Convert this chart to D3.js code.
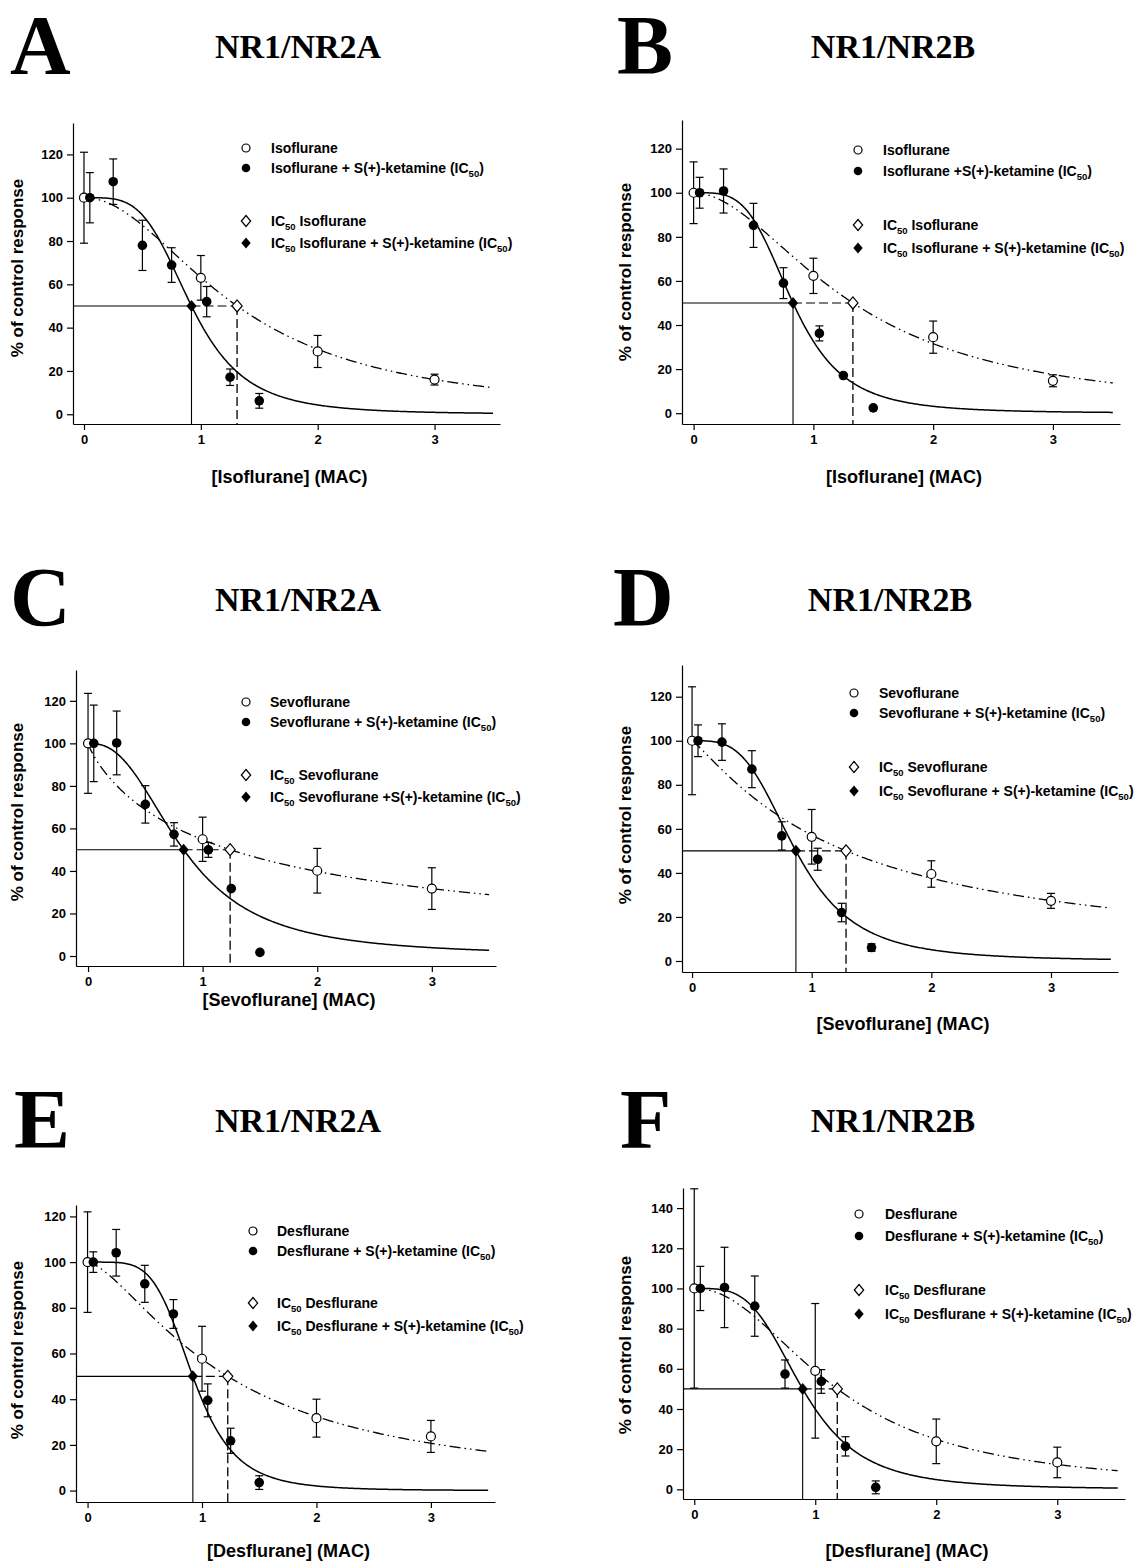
<!DOCTYPE html>
<html>
<head>
<meta charset="utf-8">
<script src="https://cdn.jsdelivr.net/npm/d3@7"></script>
<style>
  body { margin: 0; background: #fff; }
  text { font-family: "Liberation Sans", Arial, sans-serif; font-weight: bold; fill: #000; }
</style>
</head>
<body>
<svg id="fig" width="1145" height="1563"></svg>
<script>
// ---- data ----
var panelLetters = ["A", "B", "C", "D", "E", "F"];
var receptors = ["NR1/NR2A", "NR1/NR2B", "NR1/NR2A", "NR1/NR2B", "NR1/NR2A", "NR1/NR2B"];
var agents = ["Isoflurane", "Isoflurane", "Sevoflurane", "Sevoflurane", "Desflurane", "Desflurane"];

var doseAlone = [0, 1, 2, 3];                              // MAC, anaesthetic alone
var doseKet = [0.05, 0.25, 0.5, 0.75, 1.05, 1.25, 1.5];    // MAC, with S(+)-ketamine

// % of control response, mean and SD (open circles)
var aloneMean = [
  [100, 63, 29, 16],
  [100, 62.3, 34.5, 14.7],
  [100, 54.9, 40.1, 31.7],
  [100, 56.4, 39.5, 27.3],
  [100, 57.7, 31.7, 23.7],
  [100, 59, 23.9, 13.4]
];
var aloneErr = [
  [21, 10.3, 7.4, 2.5],
  [14, 8, 7.3, 2.7],
  [23.5, 10.4, 10.5, 9.8],
  [24.5, 12.4, 6, 3.4],
  [22, 14.2, 8.3, 7],
  [49.6, 33.5, 11.1, 7.6]
];
// filled circles
var ketMean = [
  [100, 107.4, 78, 68.9, 52, 17.1, 6.2],
  [100, 100.8, 85.2, 59, 36.2, 17.1, 2.4],
  [100, 100.2, 71.3, 57.2, 49.9, 31.7, 1.7],
  [100, 99.4, 87.1, 56.8, 46.2, 22, 6.1],
  [100, 104.1, 90.5, 77.3, 39.5, 21.8, 3.5],
  [100, 100.5, 91.2, 57.4, 53.7, 21.4, 1]
];
var ketErr = [
  [11.6, 10.5, 11.6, 8, 7, 3.8, 3.4],
  [7, 10, 10, 7, 3.4, 0, 0],
  [18, 15, 8.8, 5.5, 3.5, 0, 0],
  [7.2, 8.3, 8.4, 6.4, 5, 4.2, 1.7],
  [4.5, 10.2, 8.1, 6.3, 7.2, 5.5, 3],
  [11, 20, 15, 7, 5.9, 4.8, 3.2]
];
// fitted IC50 (MAC) and Hill slope: [alone, + ketamine]
var ic50 = [[1.31, 0.92], [1.33, 0.83], [1.24, 0.834], [1.287, 0.868], [1.225, 0.92], [1.182, 0.896]];
var hill = [[2.0, 4.0], [1.9, 3.9], [0.87, 2.5], [1.15, 3.5], [1.5, 5.0], [2.1, 3.7]];

var yTicks = [[0, 20, 40, 60, 80, 100, 120], [0, 20, 40, 60, 80, 100, 120], [0, 20, 40, 60, 80, 100, 120],
              [0, 20, 40, 60, 80, 100, 120], [0, 20, 40, 60, 80, 100, 120], [0, 20, 40, 60, 80, 100, 120, 140]];
var xTicks = [0, 1, 2, 3];

var legendPlus = [" + S(+)-ketamine (IC_50)", " +S(+)-ketamine (IC_50)", " + S(+)-ketamine (IC_50)",
                  " + S(+)-ketamine (IC_50)", " + S(+)-ketamine (IC_50)", " + S(+)-ketamine (IC_50)"];
var legendPlus2 = [" + S(+)-ketamine (IC_50)", " + S(+)-ketamine (IC_50)", " +S(+)-ketamine (IC_50)",
                   " + S(+)-ketamine (IC_50)", " + S(+)-ketamine (IC_50)", " + S(+)-ketamine (IC_50)"];

// ---- layout ----
var layout = [
  { left: 73,  right: 500,  top: 123,  bottom: 424,  xd: [-0.094, 3.56], yd: [-4.5, 134.5], letter: [10, 74],   title: [298, 58],   xlab: 483,  ylab: [23, 268],   leg: [246, 271, [148, 168, 221, 243]] },
  { left: 682, right: 1120, top: 120,  bottom: 424,  xd: [-0.097, 3.56], yd: [-4.9, 133],   letter: [617, 74],  title: [893, 58],   xlab: 483,  ylab: [631, 272],  leg: [858, 883, [150, 171, 225, 248]] },
  { left: 76,  right: 496,  top: 670,  bottom: 966,  xd: [-0.105, 3.56], yd: [-4.7, 134.5], letter: [10, 626],  title: [298, 611],  xlab: 1006, ylab: [23, 812],   leg: [246, 270, [702, 722, 775, 797]] },
  { left: 682, right: 1118, top: 665,  bottom: 972,  xd: [-0.084, 3.56], yd: [-5, 134.4],   letter: [613, 626], title: [890, 611],  xlab: 1030, ylab: [631, 815],  leg: [854, 879, [693, 713, 767, 791]] },
  { left: 76,  right: 495,  top: 1205, bottom: 1502, xd: [-0.101, 3.56], yd: [-5, 125],     letter: [14, 1148], title: [298, 1132], xlab: 1557, ylab: [23, 1350],  leg: [253, 277, [1231, 1251, 1303, 1326]] },
  { left: 683, right: 1125, top: 1188, bottom: 1499, xd: [-0.093, 3.56], yd: [-4.8, 150],   letter: [620, 1148], title: [893, 1132], xlab: 1557, ylab: [631, 1345], leg: [859, 885, [1214, 1236, 1290, 1314]] }
];

var svg = d3.select("#fig");

function richText(sel, str) {
  // "_50" marks a subscript
  var parts = str.split("_50");
  parts.forEach(function (p, i) {
    if (i > 0) {
      sel.append("tspan").attr("dy", 4).attr("font-size", 9.5).text("50");
      sel.append("tspan").attr("dy", -4).text(p);
    } else {
      sel.append("tspan").text(p);
    }
  });
}

function diamond(s) {
  return "M0," + (-s) + "L" + (s * 0.85) + ",0L0," + s + "L" + (-s * 0.85) + ",0Z";
}

function hillCurve(ic, n) {
  return function (x) { return 100 / (1 + Math.pow(x / ic, n)); };
}

panelLetters.forEach(function (letter, p) {
  var L = layout[p];
  var g = svg.append("g");

  var x = d3.scaleLinear().domain(L.xd).range([L.left, L.right]);
  var y = d3.scaleLinear().domain(L.yd).range([L.bottom, L.top]);

  // panel letter and receptor title
  svg.append("text").attr("x", L.letter[0]).attr("y", L.letter[1])
    .style("font-family", "'Liberation Serif', 'Times New Roman', serif")
    .attr("font-size", 84).text(letter);
  svg.append("text").attr("x", L.title[0]).attr("y", L.title[1])
    .attr("text-anchor", "middle")
    .style("font-family", "'Liberation Serif', 'Times New Roman', serif")
    .attr("font-size", 34).text(receptors[p]);

  // axes
  var yAxis = g.append("g").attr("transform", "translate(" + L.left + ",0)")
    .call(d3.axisLeft(y).tickValues(yTicks[p]).tickSize(6).tickSizeOuter(0).tickPadding(4));
  var xAxis = g.append("g").attr("transform", "translate(0," + L.bottom + ")")
    .call(d3.axisBottom(x).tickValues(xTicks).tickFormat(d3.format("d")).tickSize(6).tickSizeOuter(0).tickPadding(5));
  [xAxis, yAxis].forEach(function (a) {
    a.selectAll("text").attr("font-size", 13).style("font-family", "'Liberation Sans', Arial, sans-serif").style("font-weight", "bold");
    a.selectAll("line, path").attr("stroke", "#000").attr("stroke-width", 1.2);
  });

  g.append("text").attr("x", (L.left + L.right) / 2 + 3).attr("y", L.xlab)
    .attr("text-anchor", "middle").attr("font-size", 18)
    .text("[" + agents[p] + "] (MAC)");
  g.append("text").attr("transform", "translate(" + L.ylab[0] + "," + L.ylab[1] + ") rotate(-90)")
    .attr("text-anchor", "middle").attr("font-size", 17)
    .text("% of control response");

  // fitted curves
  var xs = d3.range(0, 3.5001, 0.01);
  var fAlone = hillCurve(ic50[p][0], hill[p][0]);
  var fKet = hillCurve(ic50[p][1], hill[p][1]);
  var line = d3.line().x(function (d) { return x(d[0]); }).y(function (d) { return y(d[1]); });

  g.append("path").datum(xs.map(function (v) { return [v, fAlone(v)]; }))
    .attr("d", line).attr("fill", "none").attr("stroke", "#000").attr("stroke-width", 1.3)
    .attr("stroke-dasharray", "11,4,1.5,4,1.5,4");
  g.append("path").datum(xs.map(function (v) { return [v, fKet(v)]; }))
    .attr("d", line).attr("fill", "none").attr("stroke", "#000").attr("stroke-width", 1.5);

  // IC50 drop lines
  var icA = ic50[p][0], icK = ic50[p][1];
  g.append("line").attr("x1", x(L.xd[0])).attr("x2", x(icK)).attr("y1", y(50)).attr("y2", y(50))
    .attr("stroke", "#000").attr("stroke-width", 1.1);
  g.append("line").attr("x1", x(icK)).attr("x2", x(icA)).attr("y1", y(50)).attr("y2", y(50))
    .attr("stroke", "#000").attr("stroke-width", 1.1).attr("stroke-dasharray", "9,4");
  g.append("line").attr("x1", x(icK)).attr("x2", x(icK)).attr("y1", y(50)).attr("y2", L.bottom)
    .attr("stroke", "#000").attr("stroke-width", 1.1);
  g.append("line").attr("x1", x(icA)).attr("x2", x(icA)).attr("y1", y(50)).attr("y2", L.bottom)
    .attr("stroke", "#000").attr("stroke-width", 1.3).attr("stroke-dasharray", "9,4");

  // error bars
  function errBars(doses, means, errs) {
    doses.forEach(function (d, i) {
      if (!errs[i]) return;
      var cx = x(d), y1 = y(means[i] + errs[i]), y2 = y(means[i] - errs[i]);
      g.append("line").attr("x1", cx).attr("x2", cx).attr("y1", y1).attr("y2", y2)
        .attr("stroke", "#000").attr("stroke-width", 1.2);
      [y1, y2].forEach(function (yy) {
        g.append("line").attr("x1", cx - 4).attr("x2", cx + 4).attr("y1", yy).attr("y2", yy)
          .attr("stroke", "#000").attr("stroke-width", 1.2);
      });
    });
  }
  errBars(doseAlone, aloneMean[p], aloneErr[p]);
  errBars(doseKet, ketMean[p], ketErr[p]);

  // points
  g.selectAll(".open").data(doseAlone).enter().append("circle")
    .attr("cx", function (d) { return x(d); })
    .attr("cy", function (d, i) { return y(aloneMean[p][i]); })
    .attr("r", 4.5).attr("fill", "#fff").attr("stroke", "#000").attr("stroke-width", 1.2);
  g.selectAll(".filled").data(doseKet).enter().append("circle")
    .attr("cx", function (d) { return x(d); })
    .attr("cy", function (d, i) { return y(ketMean[p][i]); })
    .attr("r", 4.8).attr("fill", "#000");
  g.append("path").attr("d", diamond(6))
    .attr("transform", "translate(" + x(icA) + "," + y(50) + ")")
    .attr("fill", "#fff").attr("stroke", "#000").attr("stroke-width", 1.2);
  g.append("path").attr("d", diamond(6))
    .attr("transform", "translate(" + x(icK) + "," + y(50) + ")")
    .attr("fill", "#000");

  // legend
  var sx = L.leg[0], tx = L.leg[1], rows = L.leg[2];
  var labels = [agents[p], agents[p] + legendPlus[p], "IC_50 " + agents[p], "IC_50 " + agents[p] + legendPlus2[p]];
  g.append("circle").attr("cx", sx).attr("cy", rows[0]).attr("r", 4)
    .attr("fill", "#fff").attr("stroke", "#000").attr("stroke-width", 1.2);
  g.append("circle").attr("cx", sx).attr("cy", rows[1]).attr("r", 4.3).attr("fill", "#000");
  g.append("path").attr("d", diamond(5.5)).attr("transform", "translate(" + sx + "," + rows[2] + ")")
    .attr("fill", "#fff").attr("stroke", "#000").attr("stroke-width", 1.2);
  g.append("path").attr("d", diamond(5.5)).attr("transform", "translate(" + sx + "," + rows[3] + ")")
    .attr("fill", "#000");
  labels.forEach(function (lab, i) {
    var t = g.append("text").attr("x", tx).attr("y", rows[i] + 5).attr("font-size", 14);
    richText(t, lab);
  });
});
</script>
</body>
</html>
